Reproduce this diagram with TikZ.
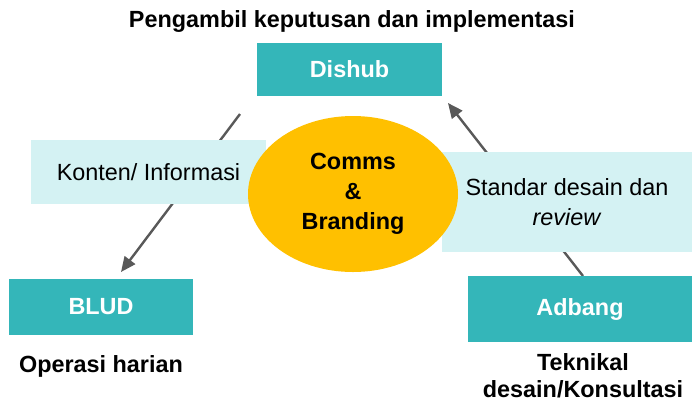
\documentclass[tikz,border=0pt]{standalone}
\usepackage{fontspec}
\setmainfont{Liberation Sans}
\usetikzlibrary{arrows.meta,backgrounds,shapes.geometric}
\definecolor{tealbox}{RGB}{52,182,185}
\definecolor{cyanbox}{RGB}{212,242,243}
\definecolor{goldell}{RGB}{255,192,0}
\definecolor{arrgray}{RGB}{89,89,89}
\begin{document}
\begin{tikzpicture}[x=0.5pt,y=-0.5pt,every node/.style={inner sep=0pt,font=\fontsize{11.7}{13.5}\selectfont},
tb/.style={rectangle,fill=tealbox,text=white,font=\fontsize{11.7}{13.5}\selectfont\bfseries},
lb/.style={rectangle,fill=cyanbox,text=black,align=center},
lbl/.style={font=\fontsize{11.7}{13.5}\selectfont\bfseries,align=center},
arr/.style={draw=arrgray,line width=1.2pt,-{Triangle[length=7.5pt,width=6.5pt]}}]
\useasboundingbox (0,0) rectangle (692,404);
\node[lbl,anchor=base] (ttl) at (352,27) {Pengambil keputusan dan implementasi};
\node[tb,minimum width=92.5pt,minimum height=26.5pt] (dishub) at (349.5,69.5) {Dishub};
\node[lb,minimum width=117.5pt,minimum height=32pt] (konten) at (148.5,172) {Konten/ Informasi};
\node[lb,minimum width=125pt,minimum height=50pt,font=\fontsize{11.7}{15}\selectfont] (standar) at (567,202) {Standar desain dan\\\textit{review}};
\node[ellipse,fill=goldell,minimum width=105pt,minimum height=78pt,align=center,font=\fontsize{11.7}{15}\selectfont\bfseries] (comms) at (353,194) {\raisebox{-2pt}{Comms}\\\raisebox{-2pt}{\&}\\\raisebox{-2pt}{Branding}};
\node[tb,minimum width=92pt,minimum height=28pt] (blud) at (101,307) {BLUD};
\node[tb,minimum width=112pt,minimum height=33pt] (adbang) at (580,309) {Adbang};
\node[lbl,anchor=base] (ops) at (101,372) {Operasi harian};
\node[lbl,anchor=base] (tek) at (583,397) {Teknikal\\desain/Konsultasi};
\coordinate (k1) at (240,114);
\coordinate (k2) at (121,272);
\coordinate (s1) at (583,276);
\coordinate (s2) at (448,103);
\begin{scope}[on background layer]
\draw[arr] (k1) -- (k2);
\draw[arr] (s1) -- (s2);
\end{scope}
\end{tikzpicture}
\end{document}
